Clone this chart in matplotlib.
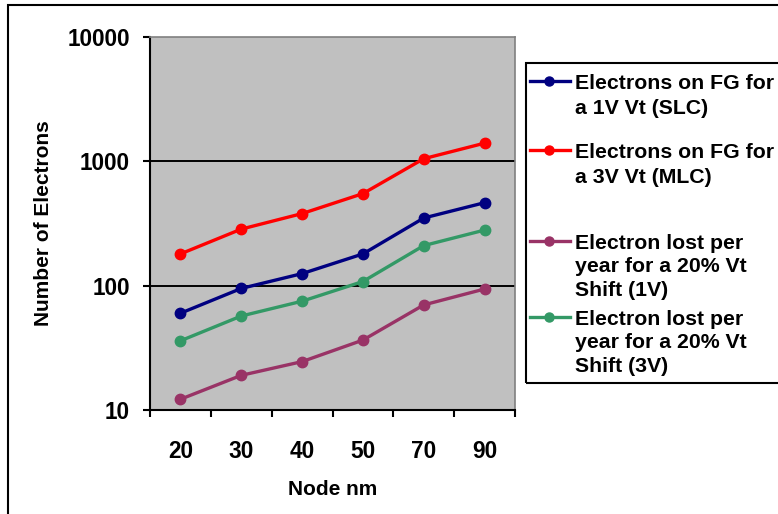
import matplotlib
matplotlib.use("Agg")
import matplotlib.pyplot as plt
from matplotlib.lines import Line2D
from matplotlib.patches import Rectangle
import numpy as np

plt.rcParams['font.family'] = ['Liberation Sans', 'DejaVu Sans']

categories = ["20", "30", "40", "50", "70", "90"]
slc_fg = [60, 95, 125, 180, 350, 465]
mlc_fg = [180, 285, 380, 550, 1050, 1400]
lost_1v = [12.2, 19, 24.5, 36.5, 70, 94]
lost_3v = [36, 57, 75, 108, 210, 280]
yticks = [10, 100, 1000, 10000]
ytick_labels = ["10", "100", "1000", "10000"]

series = [
    (slc_fg, "#000080", "Electrons on FG for\na 1V Vt (SLC)"),
    (mlc_fg, "#FF0000", "Electrons on FG for\na 3V Vt (MLC)"),
    (lost_1v, "#993366", "Electron lost per\nyear for a 20% Vt\nShift (1V)"),
    (lost_3v, "#339966", "Electron lost per\nyear for a 20% Vt\nShift (3V)"),
]

W, H = 778, 514
fig = plt.figure(figsize=(W / 100, H / 100), dpi=100)
fig.patch.set_facecolor("white")

def fx(x):
    return x / W

def fy(y):
    return 1 - y / H

ax = fig.add_axes([fx(150), fy(410), fx(515) - fx(150), fy(37) - fy(410)])
ax.set_facecolor("#C0C0C0")

x = np.arange(len(categories))
for vals, color, label in series:
    ax.plot(x, vals, color=color, lw=2.4, marker="o", markersize=7.5,
            markeredgecolor=color, markerfacecolor=color, solid_capstyle="round")

ax.set_yscale("log")
ax.set_ylim(10, 10000)
ax.set_xlim(-0.5, len(categories) - 0.5)
ax.set_yticks(yticks)
ax.set_yticklabels(ytick_labels, fontsize=16.3, fontweight="bold")
ax.yaxis.set_minor_locator(matplotlib.ticker.NullLocator())
ax.set_xticks(x)
ax.set_xticklabels(categories, fontsize=16.3, fontweight="bold")
ax.set_xticks(np.arange(-0.5, len(categories)), minor=True)
ax.tick_params(axis="x", which="major", length=0, pad=21.5)
ax.tick_params(axis="x", which="minor", length=5, width=1.5, direction="out", color="black")
ax.tick_params(axis="y", which="major", length=5, width=1.5, direction="out", color="black", pad=9.4)

for v in [100, 1000]:
    ax.axhline(v, color="black", lw=1.4, zorder=1)

for s in ["left", "bottom"]:
    ax.spines[s].set_color("black")
    ax.spines[s].set_linewidth(1.5)
for s in ["top", "right"]:
    ax.spines[s].set_color("#808080")
    ax.spines[s].set_linewidth(1.2)

ax.set_ylabel("Number of Electrons", fontsize=15, fontweight="bold", va="center")
ax.yaxis.set_label_coords(-0.293, 0.5)
ax.set_xlabel("Node nm", fontsize=15, fontweight="bold", va="center")
ax.xaxis.set_label_coords(0.5, -0.213)

# Legend (manual, Excel-style)
fig.add_artist(Rectangle((fx(526), fy(383)), fx(790) - fx(526), fy(63) - fy(383),
                         transform=fig.transFigure, fill=False, edgecolor="black", lw=1.5))
entry_y = [81, 150, 241, 317]
entry_spacing = [1.42, 1.42, 1.3, 1.3]
for (vals, color, label), ey, ls in zip(series, entry_y, entry_spacing):
    fig.add_artist(Line2D([fx(530), fx(570)], [fy(ey), fy(ey)], transform=fig.transFigure,
                          color=color, lw=2.4))
    fig.add_artist(Line2D([fx(549)], [fy(ey)], transform=fig.transFigure,
                          color=color, marker="o", markersize=6.5, lw=0))
    fig.text(fx(575), fy(ey - 7), label, fontsize=15.3, fontweight="bold",
             va="top", ha="left", linespacing=ls)

# Outer border
fig.add_artist(Rectangle((fx(8), -0.1), 1.2, fy(5) + 0.1, transform=fig.transFigure,
                         fill=False, edgecolor="black", lw=1.5))

fig.savefig("out.png", dpi=100, facecolor="white")
